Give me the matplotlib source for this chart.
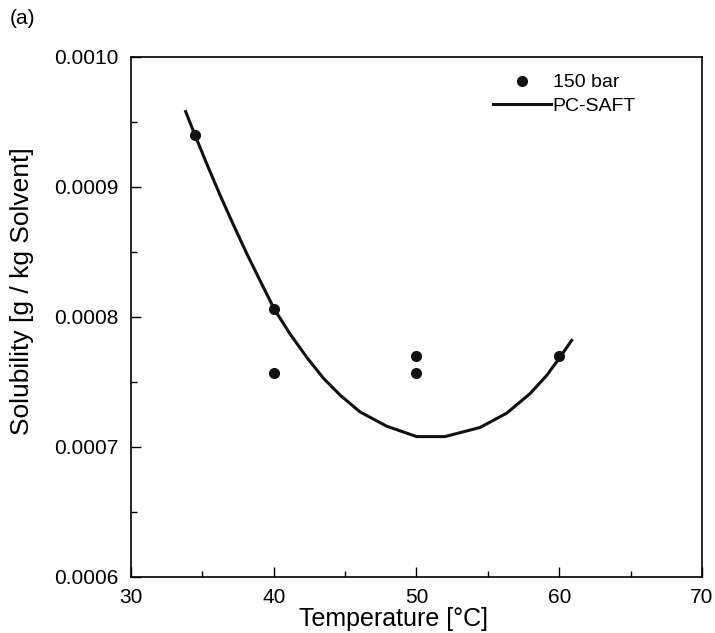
import matplotlib.pyplot as plt

plt.rcParams['font.family'] = ['Liberation Sans', 'DejaVu Sans']

# measured points (150 bar)
temp_exp = [34.5, 40.0, 40.0, 50.0, 50.0, 60.0]
sol_exp = [0.000940, 0.000806, 0.000757, 0.000770, 0.000757, 0.000770]

# PC-SAFT curve
temp_model = [33.83, 34.48, 35.30, 36.23, 37.17, 38.10, 39.04, 40.04, 41.14,
              42.31, 43.47, 44.64, 46.04, 47.91, 50.01, 52.0, 54.45, 56.32,
              57.95, 59.12, 60.05, 60.87]
sol_model = [0.000958, 0.000940, 0.000918, 0.000894, 0.000871, 0.000849,
             0.000828, 0.000806, 0.000787, 0.000769, 0.000753, 0.000740,
             0.000727, 0.000716, 0.000708, 0.000708, 0.000715, 0.000726,
             0.000741, 0.000755, 0.000769, 0.000782]

x_ticks = [30, 40, 50, 60, 70]
y_ticks = [0.0006, 0.0007, 0.0008, 0.0009, 0.0010]
y_labels = ['0.0006', '0.0007', '0.0008', '0.0009', '0.0010']

fig = plt.figure(figsize=(7.15, 6.33), dpi=100)
ax = fig.add_axes([0.1832, 0.0885, 0.7986, 0.8215])

ax.plot(temp_exp, sol_exp, 'o', color='#111111', markersize=7, label='150 bar', zorder=3)
ax.plot(temp_model, sol_model, '-', color='#111111', linewidth=2.2, label='PC-SAFT')

ax.set_xlim(30, 70)
ax.set_ylim(0.0006, 0.0010)
ax.set_xticks(x_ticks)
ax.set_xticks([35, 45, 55, 65], minor=True)
ax.set_yticks(y_ticks)
ax.set_yticklabels(y_labels)
ax.set_yticks([0.00065, 0.00075, 0.00085, 0.00095], minor=True)
ax.tick_params(which='both', direction='in', labelsize=15, top=False, right=False)
ax.tick_params(which='major', length=7, width=1)
ax.tick_params(which='minor', length=4, width=1)
ax.tick_params(axis='y', pad=9)
ax.tick_params(axis='x', pad=8)
for s in ax.spines.values():
    s.set_linewidth(1.2)

ax.set_xlabel('Temperature [°C]', fontsize=18, labelpad=0)
ax.xaxis.set_label_coords(0.46, -0.058)
ax.set_ylabel('Solubility [g / kg Solvent]', fontsize=19, labelpad=4)
ax.yaxis.set_label_coords(-0.17, 0.55)

ax.legend(loc='upper right', frameon=False, fontsize=14, bbox_to_anchor=(0.905, 0.99),
          handlelength=3.0, handletextpad=0.1, borderaxespad=0.2, labelspacing=0.3)

fig.text(0.013, 0.962, '(a)', fontsize=15)

fig.savefig('out.png', dpi=100)
